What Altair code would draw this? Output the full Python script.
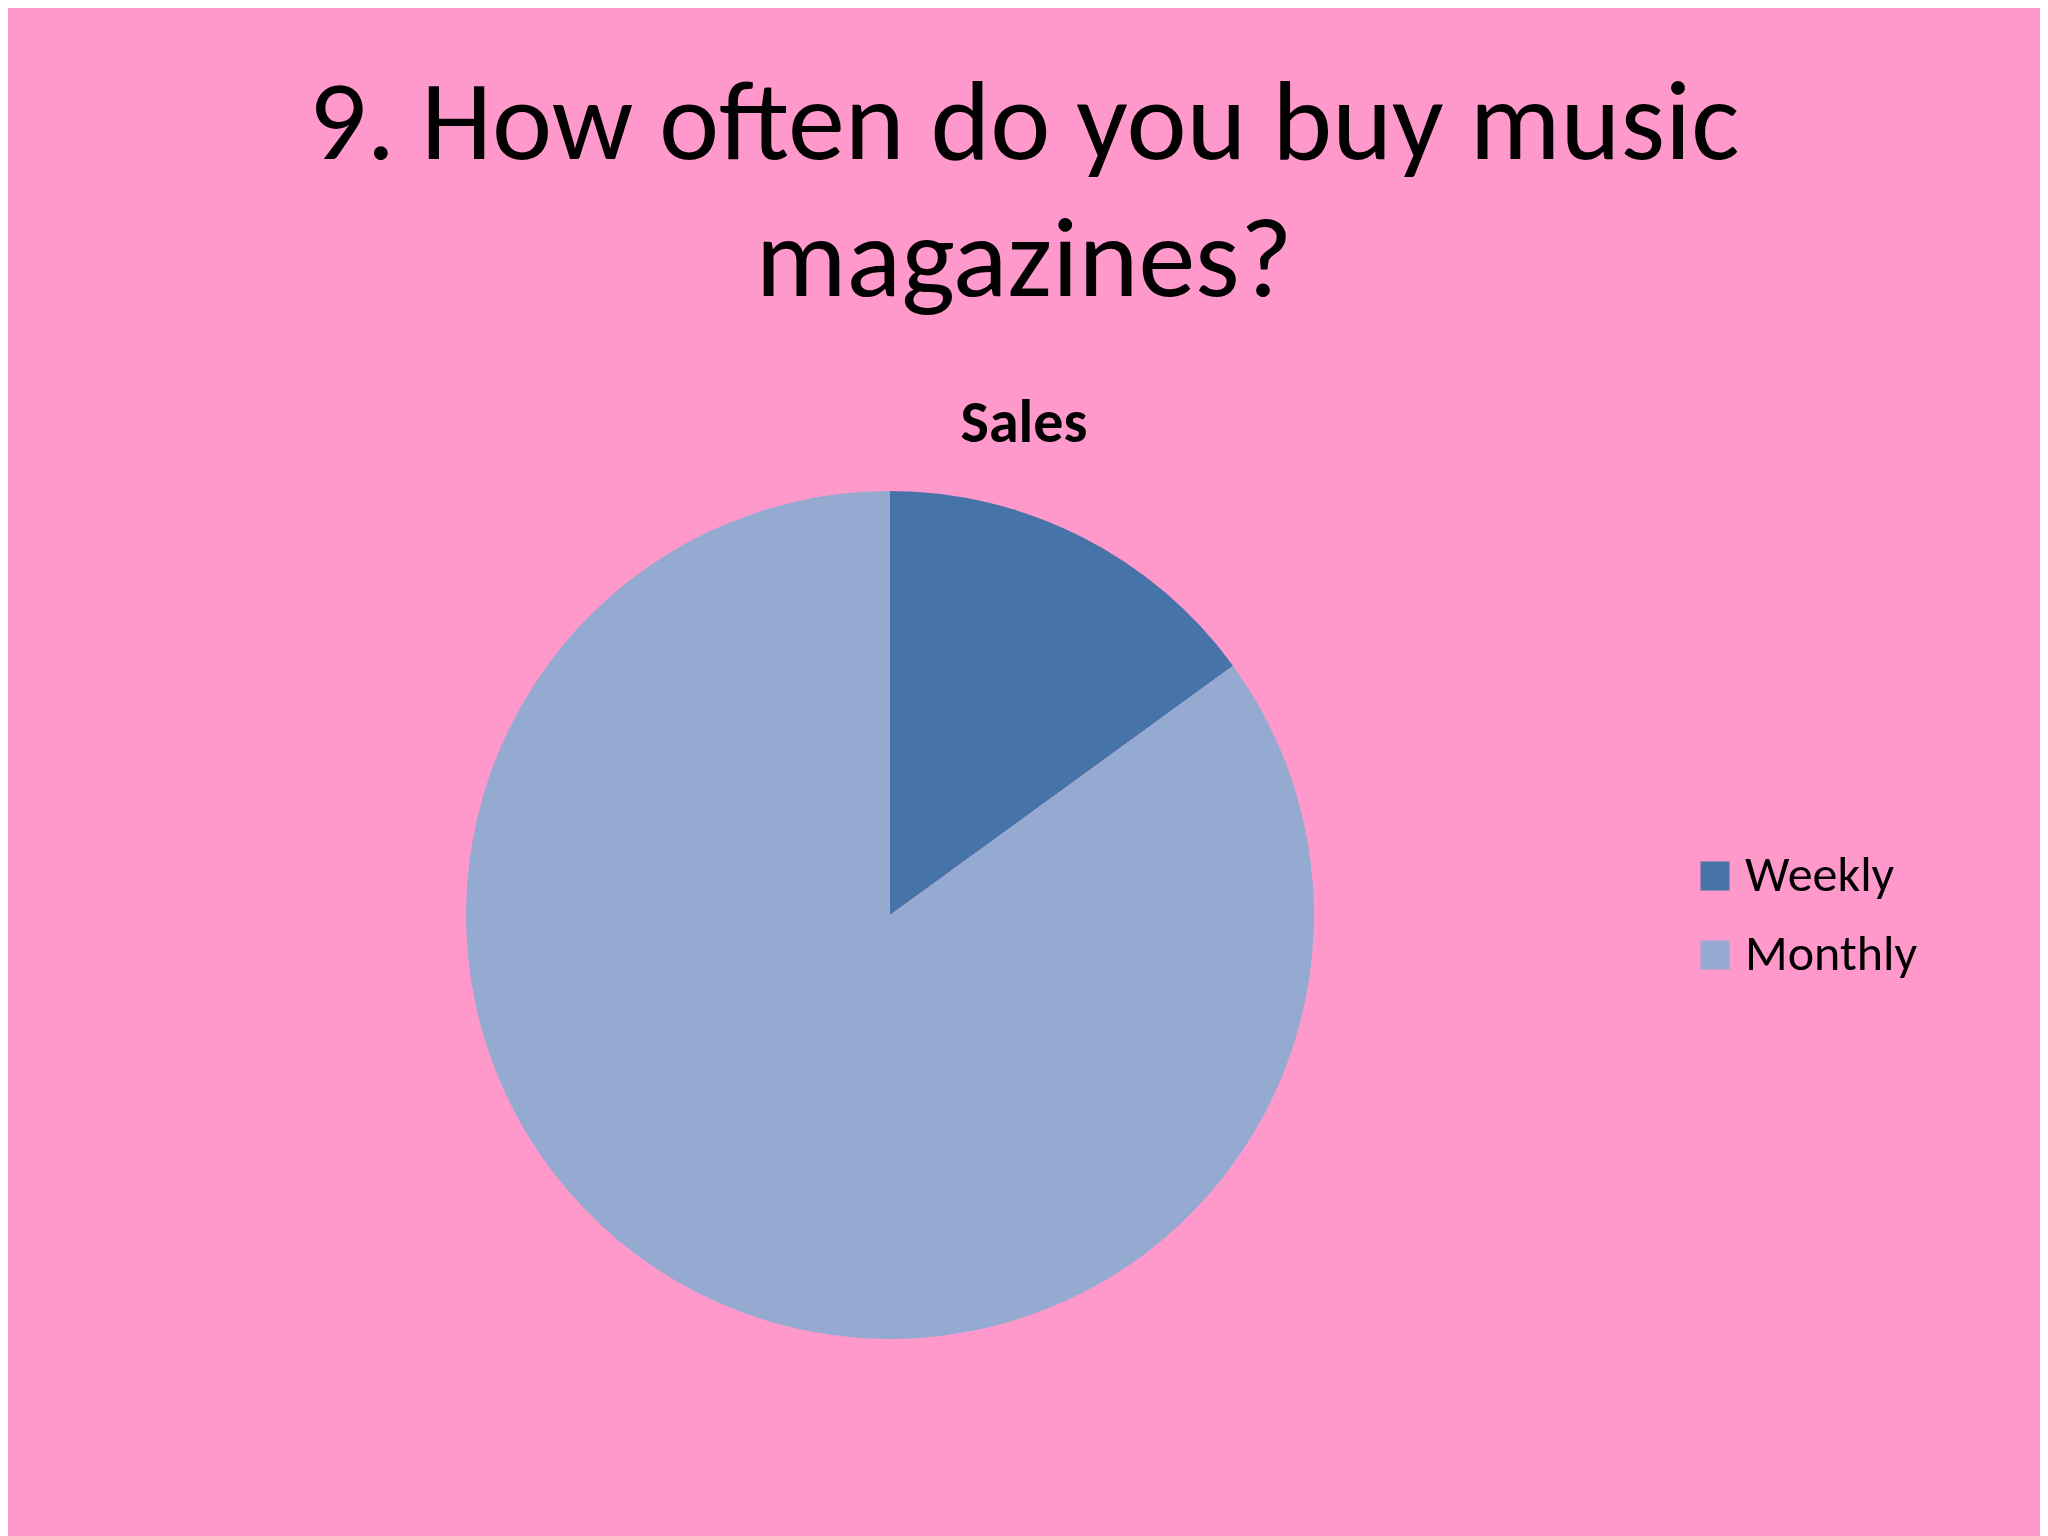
import altair as alt
import pandas as pd

categories = ["Weekly", "Monthly"]
values = [3, 17]
colors = ["#4674A8", "#95AAD0"]

title_lines = ["9. How often do you buy music", "magazines?"]
subtitle = "Sales"

FONT = "Carlito, Calibri, Lato, sans-serif"

df = pd.DataFrame({
    "category": categories,
    "value": values,
    "order": list(range(len(categories))),
})

pie = alt.Chart(df).mark_arc(radius=424, stroke=None).encode(
    theta=alt.Theta("value:Q", stack=True),
    order=alt.Order("order:Q"),
    color=alt.Color(
        "category:N",
        sort=categories,
        scale=alt.Scale(domain=categories, range=colors),
        legend=alt.Legend(
            title=None,
            orient="none",
            legendX=1682,
            legendY=376,
            symbolType="square",
            symbolSize=841,
            symbolStrokeWidth=0,
            labelFontSize=50,
            labelFont=FONT,
            labelColor="#000000",
            labelOffset=5,
            labelLimit=0,
            rowPadding=29,
        ),
    ),
    x=alt.value(882),
    y=alt.value(440),
)

chart = pie.properties(
    width=2032,
    height=1064,
    background="#FF99CC",
    padding={"top": 60, "left": 0, "right": 0, "bottom": 0},
    title=alt.TitleParams(
        text=title_lines,
        subtitle=subtitle,
        anchor="middle",
        frame="group",
        font=FONT,
        fontSize=114,
        fontWeight="normal",
        lineHeight=137,
        color="#000000",
        subtitleFont=FONT,
        subtitleFontSize=60,
        subtitleFontWeight="bold",
        subtitleColor="#000000",
        subtitlePadding=75,
        offset=20,
    ),
).configure_view(strokeWidth=0)

chart.save("out.html", embed_options={"renderer": "svg", "actions": False})
